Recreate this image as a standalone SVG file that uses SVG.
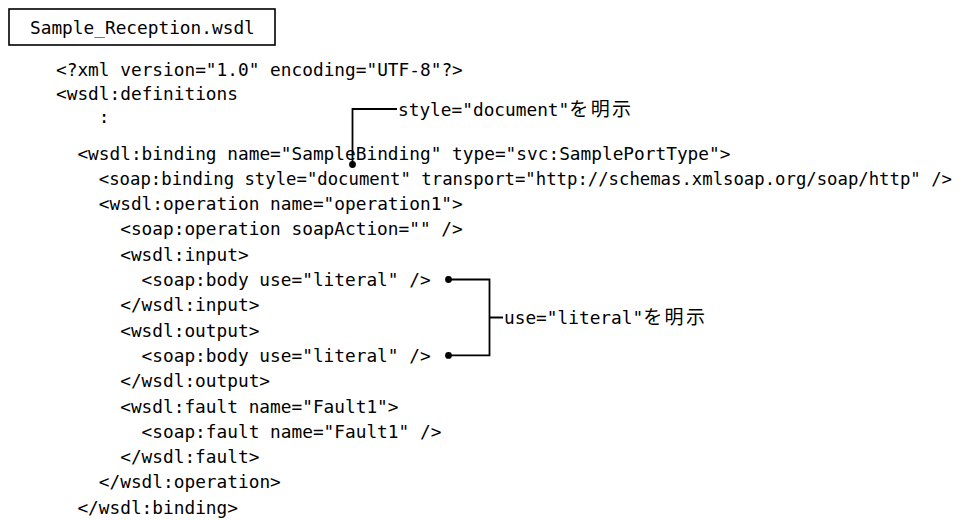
<svg xmlns="http://www.w3.org/2000/svg" width="976" height="520" viewBox="0 0 976 520">
  <style>
    .code { font-family: "DejaVu Sans Mono", "Noto Sans CJK JP", monospace; font-size: 17.8px; fill: #000; }
    .wide { font-size: 17.3px; }
    .jp { font-family: "Noto Sans CJK JP", sans-serif; font-size: 19px; letter-spacing: 2.4px; }
    .frame { fill: #fff; stroke: #000; stroke-width: 1.6; }
    .lead { fill: none; stroke: #000; stroke-width: 1.8; }
    .dot { fill: #000; }
  </style>
  <rect width="976" height="520" fill="#fff"/>

  <!-- file name box -->
  <g id="file-title">
    <rect class="frame" x="9" y="9" width="266" height="36"/>
    <text class="code" x="30" y="33.5">Sample_Reception.wsdl</text>
  </g>

  <!-- WSDL listing: 10.7px per character, two characters per indent level -->
  <g id="wsdl-listing">
    <text class="code" x="56" y="75.5">&lt;?xml version="1.0" encoding="UTF-8"?&gt;</text>
    <text class="code" x="56" y="99.5">&lt;wsdl:definitions</text>
    <text class="code" x="98.8" y="122.5">:</text>
    <text class="code" x="77.4" y="159.5">&lt;wsdl:binding name="SampleBinding" type="svc:SamplePortType"&gt;</text>
    <text class="code wide" x="98.8" y="184.8">&lt;soap:binding style="document" transport="http://schemas.xmlsoap.org/soap/http" /&gt;</text>
    <text class="code" x="98.8" y="210.1">&lt;wsdl:operation name="operation1"&gt;</text>
    <text class="code" x="120.2" y="235.4">&lt;soap:operation soapAction="" /&gt;</text>
    <text class="code" x="120.2" y="260.7">&lt;wsdl:input&gt;</text>
    <text class="code" x="141.6" y="286">&lt;soap:body use="literal" /&gt;</text>
    <text class="code" x="120.2" y="311.3">&lt;/wsdl:input&gt;</text>
    <text class="code" x="120.2" y="336.6">&lt;wsdl:output&gt;</text>
    <text class="code" x="141.6" y="361.9">&lt;soap:body use="literal" /&gt;</text>
    <text class="code" x="120.2" y="387.2">&lt;/wsdl:output&gt;</text>
    <text class="code" x="120.2" y="412.5">&lt;wsdl:fault name="Fault1"&gt;</text>
    <text class="code" x="141.6" y="437.8">&lt;soap:fault name="Fault1" /&gt;</text>
    <text class="code" x="120.2" y="463.1">&lt;/wsdl:fault&gt;</text>
    <text class="code" x="98.8" y="488.4">&lt;/wsdl:operation&gt;</text>
    <text class="code" x="77.4" y="513.5">&lt;/wsdl:binding&gt;</text>
  </g>

  <!-- callout leaders -->
  <g id="connectors">
    <path class="lead" d="M352.5,164.5 V109 H397"/>
    <circle class="dot" cx="352.5" cy="164.5" r="3.4"/>
    <path class="lead" d="M448.5,279.5 H489.5 V355.4 H448.5 M489.5,317.5 H503"/>
    <circle class="dot" cx="448.5" cy="279.5" r="3.4"/>
    <circle class="dot" cx="448.5" cy="355.4" r="3.4"/>
  </g>

  <!-- callout labels -->
  <g id="note-style">
    <text class="code" x="398" y="115.5">style="document"<tspan class="jp">を明示</tspan></text>
  </g>
  <g id="note-use">
    <text class="code" x="504" y="324">use="literal"<tspan class="jp">を明示</tspan></text>
  </g>
</svg>
